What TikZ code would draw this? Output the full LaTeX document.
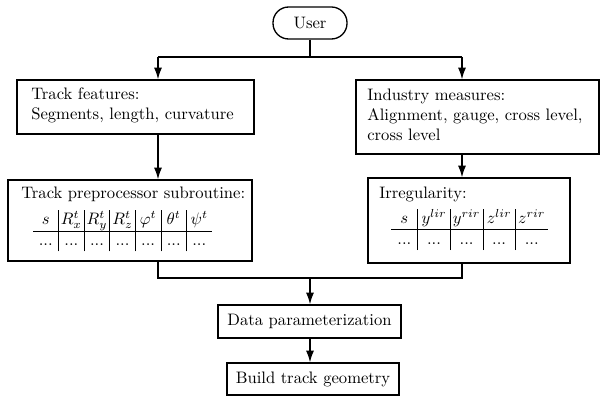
\documentclass[tikz,border=0pt]{standalone}
\usepackage{array}
\usetikzlibrary{arrows.meta}

% one drawing unit
\newcommand{\un}{0.602pt}

\tikzset{
  box/.style={draw, line width=0.8pt, rectangle, inner sep=0pt},
  lefttext/.style={align=left, inner sep=0pt, anchor=west},
  arr/.style={line width=0.8pt, -{Latex[length=7pt,width=4.8pt]}},
  conn/.style={line width=0.8pt},
  cell/.style={inner sep=0pt},
}

\begin{document}
\begin{tikzpicture}[x=\un, y=-\un]
\useasboundingbox (0,0) rectangle (601,396);

% start terminal
\node[box, rounded corners=9.4pt, minimum width=74*\un, minimum height=32*\un]
  (user) at (310,23) {User};

% input boxes
\node[box, minimum width=237*\un, minimum height=54*\un] (feat) at (135.5,107) {};
\node[lefttext] (feattext) at (31,105.5) {Track features:\\Segments, length, curvature};
\node[box, minimum width=243*\un, minimum height=74*\un] (ind) at (477.5,117) {};
\node[lefttext] (indtext) at (367,115) {Industry measures:\\Alignment, gauge, cross level,\\cross level};

% preprocessing boxes with their tables
\node[box, minimum width=244*\un, minimum height=81*\un] (prep) at (130,220.5) {};
\node[cell, anchor=west] (preptitle) at (21,194) {Track preprocessor subroutine:};
\node[cell, anchor=north west] (preptab) at (33,210) {%
  \setlength{\tabcolsep}{2pt}%
  \begin{tabular}{w{c}{11pt}|w{c}{11pt}|w{c}{11pt}|w{c}{11pt}|w{c}{11pt}|w{c}{11pt}|w{c}{11pt}}
  $s$ & $R_x^t$ & $R_y^t$ & $R_z^t$ & $\varphi^t$ & $\theta^t$ & $\psi^t$\\ \hline
  ... & ... & ... & ... & ... & ... & ...
  \end{tabular}};

\node[box, minimum width=202*\un, minimum height=85*\un] (irr) at (469,220.5) {};
\node[cell, anchor=west] (irrtitle) at (379,194) {Irregularity:};
\node[cell, anchor=north west] (irrtab) at (391,209) {%
  \setlength{\tabcolsep}{2pt}%
  \begin{tabular}{w{c}{11.7pt}|w{c}{15.2pt}|w{c}{15.2pt}|w{c}{15.2pt}|w{c}{15.2pt}}
  $s$ & $y^{lir}$ & $y^{rir}$ & $z^{lir}$ & $z^{rir}$\\ \hline
  ... & ... & ... & ... & ...
  \end{tabular}};

% processing chain
\node[box, minimum width=183*\un, minimum height=33*\un] (data) at (309.5,321.5) {Data parameterization};
\node[box, minimum width=172*\un, minimum height=32*\un] (build) at (313,379) {Build track geometry};

% branch and merge points
\coordinate (split) at (310,57);
\coordinate (lsplit) at (158,57);
\coordinate (rsplit) at (462,57);
\coordinate (merge) at (310,278);

% connectors
\draw[conn] (user.south) -- (split);
\draw[conn] (lsplit) -- (rsplit);
\draw[arr] (lsplit) -- (lsplit |- feat.north);
\draw[arr] (rsplit) -- (rsplit |- ind.north);
\draw[arr] (lsplit |- feat.south) -- (lsplit |- prep.north);
\draw[arr] (rsplit |- ind.south) -- (rsplit |- irr.north);
\draw[conn] (lsplit |- prep.south) |- (merge) -| (rsplit |- irr.south);
\draw[arr] (merge) -- (merge |- data.north);
\draw[arr] (merge |- data.south) -- (merge |- build.north);
\end{tikzpicture}
\end{document}
